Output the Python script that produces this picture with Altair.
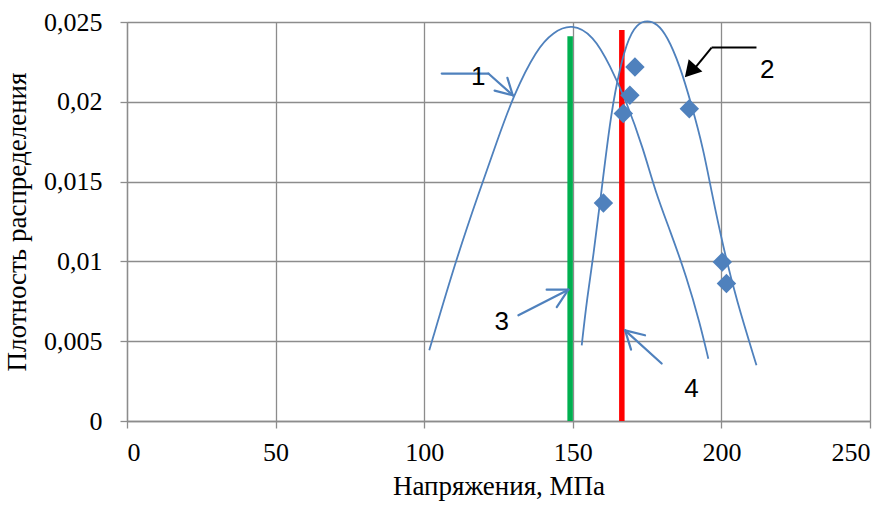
import altair as alt
import pandas as pd

# Curve 1 (theoretical distribution 1)
c1_x = [101.7, 111.0, 118.4, 124.4, 130.0, 137.9, 143.4, 149.6, 156.9, 162.5,
        168.1, 173.7, 177.9, 182.7, 188.3, 192.8, 195.6]
c1_y = [0.00443, 0.01028, 0.01430, 0.01748, 0.0204, 0.02333, 0.02437, 0.0249, 0.02417, 0.02229,
        0.0200, 0.01707, 0.0143, 0.01195, 0.00902, 0.0061, 0.0039]
# Curve 2 (distribution 2)
c2_x = [153.0, 154.7, 156.9, 159.7, 162.5, 164.8, 168.1, 171.5, 175.2, 178.3,
        181.6, 186.0, 190.0, 193.9, 196.7, 200.6, 205.1, 211.8]
c2_y = [0.00474, 0.00756, 0.01028, 0.0145, 0.01873, 0.02124, 0.02375, 0.0249, 0.0251, 0.0249,
        0.02417, 0.02229, 0.01978, 0.01707, 0.01435, 0.0109, 0.00756, 0.00349]
# Experimental points
pt_x = [160.3, 167.0, 169.2, 170.9, 189.2, 200.3, 201.7]
pt_y = [0.01366, 0.01926, 0.02041, 0.02218, 0.01957, 0.00996, 0.00861]
# Vertical lines (3 = green, 4 = red)
vl_x = [149.1, 166.5]
vl_top = [0.0241, 0.0245]
vl_color = ["#00b050", "#ff0000"]

# Annotation labels
lab_text = ["1", "2", "3", "4"]
lab_x = [118.2, 215.4, 126.1, 189.9]
lab_y = [0.02155, 0.02202, 0.0062, 0.00203]

# Arrow segments (x, y, x2, y2), blue open arrows
blue_seg_x = [105.9, 121.6, 129.8, 129.8, 131.7, 148.5, 148.5, 179.9, 167.6, 167.6]
blue_seg_y = [0.02177, 0.02177, 0.02041, 0.02041, 0.00662, 0.00823, 0.00823, 0.0036, 0.00568, 0.00568]
blue_seg_x2 = [121.6, 129.8, 128.0, 123.7, 148.5, 141.2, 144.6, 167.6, 174.3, 169.6]
blue_seg_y2 = [0.02177, 0.02041, 0.0215, 0.0207, 0.00823, 0.00823, 0.00714, 0.00568, 0.00537, 0.00447]
# Black arrow 2
blk_seg_x = [211.8, 196.7]
blk_seg_y = [0.0234, 0.0234]
blk_seg_x2 = [196.7, 190.6]
blk_seg_y2 = [0.0234, 0.0220]
blk_head_x = [190.1]
blk_head_y = [0.02203]

BLUE = "#4f81bd"
GRID = "#8c8c8c"

curves = pd.DataFrame({
    "x": c1_x + c2_x,
    "y": c1_y + c2_y,
    "s": ["1"] * len(c1_x) + ["2"] * len(c2_x),
})
points = pd.DataFrame({"x": pt_x, "y": pt_y})
vlines = pd.DataFrame({"x": vl_x, "y": [0, 0], "y2": vl_top, "c": vl_color})
labels = pd.DataFrame({"x": lab_x, "y": lab_y, "t": lab_text})
bseg = pd.DataFrame({"x": blue_seg_x, "y": blue_seg_y, "x2": blue_seg_x2, "y2": blue_seg_y2})
kseg = pd.DataFrame({"x": blk_seg_x, "y": blk_seg_y, "x2": blk_seg_x2, "y2": blk_seg_y2})
khead = pd.DataFrame({"x": blk_head_x, "y": blk_head_y})

xsc = alt.Scale(domain=[0, 250], nice=False, zero=False)
ysc = alt.Scale(domain=[0, 0.025], nice=False)

xax = alt.Axis(values=[0, 50, 100, 150, 200, 250], title="Напряжения, МПа",
               grid=True, gridColor=GRID, gridWidth=1.3,
               domainColor=GRID, domainWidth=1.3, tickColor=GRID, tickWidth=1.3, tickSize=7,
               labelFont="Liberation Serif", labelFontSize=26, labelColor="black",
               labelPadding=11, titleFont="Liberation Serif", titleFontSize=27,
               titleFontWeight="normal", titleColor="black", titlePadding=8)
yax = alt.Axis(values=[0, 0.005, 0.01, 0.015, 0.02, 0.025], title="Плотность распределения",
               labelExpr="replace(format(datum.value, '.3~f'), '.', ',')",
               grid=True, gridColor=GRID, gridWidth=1.3,
               domainColor=GRID, domainWidth=1.3, tickColor=GRID, tickWidth=1.3, tickSize=7,
               labelFont="Liberation Serif", labelFontSize=26, labelColor="black",
               labelPadding=18, titleFont="Liberation Serif", titleFontSize=27,
               titleFontWeight="normal", titleColor="black", titlePadding=12)

X = alt.X("x:Q", scale=xsc, axis=xax)
Y = alt.Y("y:Q", scale=ysc, axis=yax)

vl = alt.Chart(vlines).mark_rule(strokeWidth=5.5, strokeCap="butt").encode(
    x=X, y=Y, y2="y2:Q", color=alt.Color("c:N", scale=None))

cur = alt.Chart(curves).mark_line(color=BLUE, strokeWidth=1.8, interpolate="basis").encode(
    x="x:Q", y="y:Q", detail="s:N", order="x:Q")

pts = alt.Chart(points).mark_point(shape="diamond", filled=True, size=380, color=BLUE, opacity=1).encode(
    x="x:Q", y="y:Q")

bs = alt.Chart(bseg).mark_rule(color=BLUE, strokeWidth=2.2, strokeCap="round").encode(
    x="x:Q", y="y:Q", x2="x2:Q", y2="y2:Q")
ks = alt.Chart(kseg).mark_rule(color="black", strokeWidth=2, strokeCap="butt").encode(
    x="x:Q", y="y:Q", x2="x2:Q", y2="y2:Q")
kh = alt.Chart(khead).mark_point(shape="triangle", filled=True, size=340, angle=222,
                                 color="black", opacity=1).encode(x="x:Q", y="y:Q")

txt = alt.Chart(labels).mark_text(font="Liberation Sans", fontSize=26, color="black",
                                  align="center", baseline="middle").encode(
    x="x:Q", y="y:Q", text="t:N")

chart = alt.layer(vl, cur, pts, bs, ks, kh, txt).properties(
    width=743, height=399,
    autosize=alt.AutoSizeParams(type="none"),
    padding={"left": 127, "top": 22, "right": 25, "bottom": 86},
).configure_view(stroke=None).configure(background="white")

chart.save("out.html", embed_options={"renderer": "svg", "actions": False})
